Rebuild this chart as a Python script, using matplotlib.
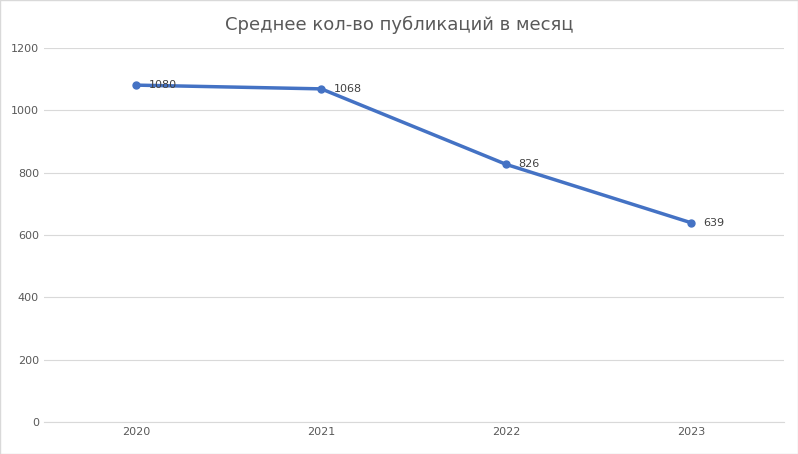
import matplotlib
matplotlib.use("Agg")
import matplotlib.pyplot as plt

years = ["2020", "2021", "2022", "2023"]
values = [1080, 1068, 826, 639]
yticks = [0, 200, 400, 600, 800, 1000, 1200]

plt.rcParams['font.family'] = ['DejaVu Sans']
fig = plt.figure(figsize=(7.98, 4.54), dpi=100)
ax = fig.add_axes([0.055, 0.07, 0.927, 0.825])
x = range(len(years))
ax.plot(x, values, color="#4472C4", linewidth=2.5, marker="o", markersize=5)
for xi, v in zip(x, values):
    ax.annotate(str(v), (xi, v), xytext=(9, 0), textcoords="offset points",
                va="center", ha="left", fontsize=8, color="#404040")
ax.set_xlim(-0.5, 3.5)
ax.set_ylim(0, 1200)
ax.set_yticks(yticks)
ax.set_xticks(list(x))
ax.set_xticklabels(years)
ax.grid(axis="y", color="#D9D9D9", linewidth=0.8)
ax.set_axisbelow(True)
for s in ["top", "right", "left"]:
    ax.spines[s].set_visible(False)
ax.spines["bottom"].set_color("#D9D9D9")
ax.tick_params(length=0, labelsize=8, colors="#595959")
fig.suptitle("Среднее кол-во публикаций в месяц", y=0.965, fontsize=13, color="#595959")
fig.patches.append(plt.Rectangle((0, 0), 1, 1, transform=fig.transFigure, fill=False, edgecolor="#D9D9D9", linewidth=1))
fig.savefig("out.png", dpi=100)
